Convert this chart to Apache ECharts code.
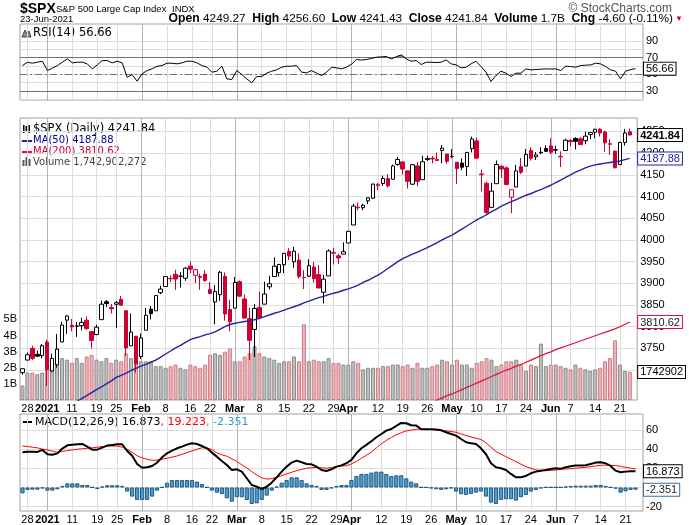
<!DOCTYPE html>
<html>
<head>
<meta charset="utf-8">
<script src="https://cdn.jsdelivr.net/npm/echarts@6.0.0/dist/echarts.min.js"></script>
<style>
html,body{margin:0;padding:0;background:#fff;}
#chart{width:689px;height:525px;}
</style>
</head>
<body>
<div id="chart"></div>
<script>
// ---------------- DATA ----------------
const dates = [
'2020-12-24','2020-12-28','2020-12-29','2020-12-30','2020-12-31',
'2021-01-04','2021-01-05','2021-01-06','2021-01-07','2021-01-08','2021-01-11','2021-01-12','2021-01-13','2021-01-14','2021-01-15','2021-01-19','2021-01-20','2021-01-21','2021-01-22','2021-01-25','2021-01-26','2021-01-27','2021-01-28','2021-01-29',
'2021-02-01','2021-02-02','2021-02-03','2021-02-04','2021-02-05','2021-02-08','2021-02-09','2021-02-10','2021-02-11','2021-02-12','2021-02-16','2021-02-17','2021-02-18','2021-02-19','2021-02-22','2021-02-23','2021-02-24','2021-02-25','2021-02-26',
'2021-03-01','2021-03-02','2021-03-03','2021-03-04','2021-03-05','2021-03-08','2021-03-09','2021-03-10','2021-03-11','2021-03-12','2021-03-15','2021-03-16','2021-03-17','2021-03-18','2021-03-19','2021-03-22','2021-03-23','2021-03-24','2021-03-25','2021-03-26','2021-03-29','2021-03-30','2021-03-31',
'2021-04-01','2021-04-05','2021-04-06','2021-04-07','2021-04-08','2021-04-09','2021-04-12','2021-04-13','2021-04-14','2021-04-15','2021-04-16','2021-04-19','2021-04-20','2021-04-21','2021-04-22','2021-04-23','2021-04-26','2021-04-27','2021-04-28','2021-04-29','2021-04-30',
'2021-05-03','2021-05-04','2021-05-05','2021-05-06','2021-05-07','2021-05-10','2021-05-11','2021-05-12','2021-05-13','2021-05-14','2021-05-17','2021-05-18','2021-05-19','2021-05-20','2021-05-21','2021-05-24','2021-05-25','2021-05-26','2021-05-27','2021-05-28',
'2021-06-01','2021-06-02','2021-06-03','2021-06-04','2021-06-07','2021-06-08','2021-06-09','2021-06-10','2021-06-11','2021-06-14','2021-06-15','2021-06-16','2021-06-17','2021-06-18','2021-06-21','2021-06-22','2021-06-23'
];
const prevClose0 = 3690.01;
const open = [
3694.03,3723.03,3750.01,3736.19,3733.27,
3764.61,3698.02,3712.20,3764.71,3815.05,3803.14,3801.62,3802.23,3814.98,3788.73,3781.88,3816.22,3857.46,3844.24,3851.68,3862.96,3836.83,3755.75,3778.05,
3731.17,3791.84,3840.27,3836.66,3878.30,3892.59,3910.49,3920.78,3916.40,3911.65,3939.61,3918.50,3915.86,3921.16,3885.55,3857.07,3873.71,3915.80,3839.66,
3842.51,3903.64,3863.99,3818.53,3793.58,3844.39,3851.93,3891.99,3915.54,3924.52,3942.96,3973.59,3949.57,3953.50,3913.14,3916.48,3937.60,3919.93,3879.34,3917.12,3969.31,3963.34,3967.25,
3992.78,4034.44,4075.57,4074.29,4089.95,4096.11,4124.71,4130.10,4141.58,4139.76,4174.14,4179.80,4159.18,4128.42,4170.46,4138.78,4185.03,4188.25,4185.14,4206.14,4198.10,
4191.98,4179.04,4177.06,4169.14,4210.34,4228.29,4150.34,4130.55,4074.99,4129.58,4169.92,4165.94,4098.45,4121.97,4168.61,4170.16,4205.94,4191.59,4201.94,4210.77,
4216.52,4206.82,4191.43,4206.05,4229.34,4233.81,4232.99,4228.56,4242.90,4248.31,4255.28,4248.87,4220.37,4204.78,4173.40,4224.61,4249.27
];
const high = [
3703.82,3740.51,3756.12,3744.63,3760.20,
3769.99,3737.83,3783.04,3811.55,3826.69,3817.86,3810.78,3820.96,3823.60,3788.73,3804.53,3859.75,3861.45,3852.31,3859.23,3870.90,3836.83,3830.50,3778.05,
3784.32,3843.09,3847.51,3872.42,3894.56,3915.77,3918.35,3931.50,3925.99,3937.23,3950.43,3933.61,3921.98,3930.41,3902.92,3895.98,3928.65,3925.02,3861.08,
3914.50,3906.41,3874.47,3843.67,3851.69,3881.06,3903.76,3917.35,3960.27,3944.99,3970.08,3981.04,3983.87,3969.62,3930.12,3955.31,3949.13,3942.08,3919.54,3978.19,3981.83,3968.01,3994.41,
4020.63,4083.42,4086.23,4083.13,4098.19,4129.48,4131.76,4148.00,4151.69,4173.49,4191.31,4180.81,4159.18,4175.02,4179.57,4194.17,4194.19,4193.35,4201.53,4218.78,4198.10,
4209.39,4179.04,4187.72,4202.70,4238.04,4236.39,4162.04,4134.73,4131.58,4183.13,4171.92,4169.15,4116.93,4172.80,4188.72,4209.52,4213.42,4202.61,4213.38,4218.36,
4234.12,4217.37,4204.39,4233.45,4232.34,4236.74,4237.09,4249.74,4248.38,4255.59,4257.16,4251.89,4232.29,4204.78,4226.24,4255.84,4256.60
];
const low = [
3689.32,3723.03,3723.31,3730.21,3726.88,
3662.71,3695.07,3705.34,3764.71,3783.60,3789.02,3776.51,3791.50,3792.86,3749.62,3780.37,3816.22,3845.05,3830.41,3797.16,3847.78,3732.48,3755.75,3694.12,
3725.62,3791.84,3816.68,3836.66,3874.93,3892.59,3902.64,3884.94,3890.39,3905.78,3923.85,3900.43,3885.03,3903.07,3874.71,3805.59,3859.60,3814.04,3789.54,
3842.51,3868.57,3818.86,3723.34,3730.19,3819.25,3851.93,3885.73,3915.54,3915.21,3923.54,3953.44,3935.74,3910.86,3886.75,3914.16,3901.57,3889.07,3853.50,3917.12,3943.25,3944.35,3966.98,
3992.78,4034.44,4068.14,4068.31,4082.54,4095.51,4114.82,4124.43,4120.87,4139.76,4170.75,4150.47,4118.38,4126.35,4123.69,4138.78,4182.36,4176.22,4181.78,4176.81,4174.85,
4188.03,4128.59,4160.94,4147.33,4201.64,4188.13,4111.53,4056.88,4074.99,4129.58,4142.69,4125.99,4061.41,4121.97,4151.72,4170.16,4182.52,4184.11,4197.78,4203.57,
4197.59,4198.27,4167.93,4206.05,4215.66,4208.41,4218.74,4220.34,4232.25,4234.07,4238.35,4202.45,4196.05,4164.40,4173.40,4217.27,4241.43
];
const close = [
3703.06,3735.36,3727.04,3732.04,3756.07,
3700.65,3726.86,3748.14,3803.79,3824.68,3799.61,3801.19,3809.84,3795.54,3768.25,3798.91,3851.85,3853.07,3841.47,3855.36,3849.62,3750.77,3787.38,3714.24,
3773.86,3826.31,3830.17,3871.74,3886.83,3915.59,3911.23,3909.88,3916.38,3934.83,3932.59,3931.33,3913.97,3906.71,3876.50,3881.37,3925.43,3829.34,3811.15,
3901.82,3870.29,3819.72,3768.47,3841.94,3821.35,3875.44,3898.81,3939.34,3943.34,3968.94,3962.71,3974.12,3915.46,3913.10,3940.59,3910.52,3889.14,3909.52,3974.54,3971.09,3958.55,3972.89,
4019.87,4077.91,4073.94,4079.95,4097.17,4128.80,4127.99,4141.59,4124.66,4170.42,4185.47,4163.26,4134.94,4173.42,4134.98,4180.17,4187.62,4186.72,4183.18,4211.47,4181.17,
4192.66,4164.66,4167.59,4201.62,4232.60,4188.43,4152.10,4063.04,4112.50,4173.85,4163.29,4127.83,4115.68,4159.12,4155.86,4197.05,4188.13,4195.99,4200.88,4204.11,
4202.04,4208.12,4192.85,4229.89,4226.52,4227.26,4219.55,4239.18,4247.44,4255.15,4246.59,4223.70,4221.86,4166.45,4224.79,4246.44,4241.84
];
// volume in billions
const volumeB = [
0.9,1.7,1.7,1.6,1.7,
2.7,2.5,3.2,2.6,2.5,2.3,2.6,2.3,2.7,2.8,2.5,2.4,2.6,2.3,2.5,2.4,2.9,2.6,3.2,
2.4,2.4,2.4,2.1,2.1,2.0,2.1,2.2,2.0,1.9,2.2,2.1,2.0,2.2,2.8,2.9,2.8,3.0,3.2,
2.4,2.4,2.7,2.9,3.35,2.9,2.7,2.6,2.5,2.3,2.4,2.4,2.7,2.4,4.7,2.4,2.5,2.4,2.4,2.6,2.3,2.3,2.2,
2.2,2.4,2.3,1.9,2.0,2.0,2.0,2.1,2.1,2.2,2.2,2.1,2.2,2.0,2.3,2.0,2.0,2.1,2.2,2.5,2.4,
2.2,2.5,2.2,2.2,2.0,2.3,2.4,2.6,2.5,2.1,2.2,2.4,2.4,2.5,2.2,1.8,2.2,2.1,3.5,2.1,
2.2,2.2,2.1,2.0,1.9,2.2,2.0,1.9,1.8,1.9,2.0,2.4,2.6,3.7,2.2,1.8,1.742902272
];
const ma50 = [
null,null,null,null,null,
null,null,null,null,null,null,3628,3634,3641,3648,3655,3661,3668,3675,3683,3688,3693,3699,3704,
3709,3713,3718,3723,3730,3737,3744,3751,3757,3764,3770,3774,3777,3781,3784,3788,3794,3800,3805,
3808,3810,3812,3813.5,3816,3819,3823,3827,3831,3834,3838,3842,3846,3850,3855,3859,3863,3867,3870,3874,3877,3880,3884,
3887,3891,3896,3902,3907,3913,3919,3926,3934,3942,3950,3957,3962,3967,3972,3977,3982,3988,3994,4000,4006,
4011,4018,4025,4032,4039,4046,4052,4058,4065,4071,4078,4083,4088,4093,4098,4103,4107,4112,4116,4121,
4126,4132,4138,4144,4150,4156,4161,4166,4170,4173,4175,4177,4178.5,4180,4182,4185,4187.88
];
const ma200 = [
null,null,null,null,null,
null,null,null,null,null,null,null,null,null,null,null,null,null,null,null,null,null,null,null,
null,null,null,null,null,null,null,null,null,null,null,null,null,null,null,null,null,null,null,
null,null,null,null,null,null,null,null,null,null,null,null,null,null,null,null,null,null,null,null,null,null,null,
null,null,null,null,null,null,null,null,null,null,null,null,null,null,null,null,null,3625,3631,3636,3641,
3645,3650,3655,3660,3665,3670,3675,3680,3685,3690,3695,3700,3704,3709,3713,3718,3723,3728,3733,3738,
3742,3747,3751,3755,3759,3763,3767,3771,3775,3779,3783,3787,3791,3795,3800,3805,3810.62
];
const rsi = [
60.4,64.4,63.2,64.4,65.6,
54.4,57.2,60.4,64.4,68.4,63.6,64.4,64.4,62.4,56.4,61.2,66.4,66.4,63.6,65.6,63.6,46.4,49.6,41.6,
50.4,54.4,56.4,59.6,60.4,63.2,63.2,62.4,63.6,65.6,65.6,63.6,60.4,58.4,52.4,53.6,59.6,44.4,43.6,
54.4,49.6,44.4,39.6,47.2,47.2,51.2,53.6,55.2,58.4,59.6,59.6,60.4,52.4,51.6,54.4,51.2,48.4,52.4,58.4,57.6,56.4,58.4,
62.0,67.6,67.0,67.6,69.0,70.4,70.8,71.2,68.4,71.0,73.2,68.4,65.6,66.4,61.6,64.4,64.4,64.0,64.4,67.2,62.4,
61.2,57.6,58.4,62.4,65.6,59.2,52.4,41.2,48.4,53.6,51.2,47.2,51.2,51.2,56.4,55.2,55.6,56.0,56.4,56.2,
56.4,54.4,59.6,59.2,58.4,60.4,60.8,61.2,63.2,62.4,59.2,55.2,53.6,44.4,53.6,55.6,56.66
];
const macd = [
36.6,37.3,37.3,37.0,39.1,
34.6,34.0,35.5,40.5,43.9,44.6,45.0,45.3,42.5,39.4,39.4,41.5,43.6,44.3,45.0,45.0,38.0,33.0,24.5,
20.5,21.0,22.4,25.9,31.4,35.6,38.4,40.8,42.5,44.6,46.0,45.3,43.2,40.8,36.3,32.1,27.6,23.4,18.2,
18.9,16.5,9.6,2.6,0.9,-1.6,0.9,5.0,10.6,16.5,21.7,25.9,28.0,26.2,24.5,24.1,21.7,18.2,17.2,18.9,21.7,23.0,25.2,
28.7,35.6,40.8,44.3,48.1,52.3,55.7,59.2,60.9,64.1,67.2,66.9,64.8,64.4,60.6,60.6,60.6,60.3,59.6,57.5,55.7,
54.0,50.5,47.1,46.0,45.3,40.8,34.6,25.2,21.0,20.0,18.2,14.1,10.6,10.6,12.0,14.8,16.5,17.5,18.2,19.3,
20.0,19.6,21.0,22.1,22.8,22.8,23.1,24.5,25.9,26.2,25.2,22.4,17.5,15.8,16.5,16.9,16.873
];
const signal = [
43.2,42.6,41.9,41.2,40.0,
39.1,37.8,36.6,37.5,38.4,39.1,39.8,40.3,40.8,41.3,41.9,42.5,43.2,43.2,43.2,42.0,39.8,36.5,33.0,
30.8,29.4,28.3,28.5,29.5,30.4,31.6,32.8,34.5,36.3,38.0,39.8,41.3,41.2,39.5,36.0,34.0,32.5,29.8,
27.2,23.5,20.5,16.5,13.0,10.0,8.7,9.2,10.6,12.3,14.1,15.8,17.5,18.8,20.0,20.5,21.0,20.5,20.0,20.8,21.7,22.3,22.6,
24.5,27.3,30.4,33.5,36.8,41.2,45.5,49.0,52.0,54.8,57.0,58.9,59.8,60.6,60.6,60.6,60.3,59.9,59.4,58.9,58.2,
57.5,55.8,54.0,52.6,51.2,50.0,46.5,42.0,37.3,34.7,32.1,29.5,26.9,24.3,21.7,20.0,18.2,17.8,17.5,17.9,
18.2,18.8,19.3,19.6,20.0,20.5,21.0,21.7,22.4,23.0,23.3,23.0,22.8,21.9,21.0,20.1,19.223
];
const hist = [
-6.1,-2.6,-2.3,-2.3,-0.9,
-3.3,-3.3,-1.9,1.6,4.3,4.3,4.3,2.6,2.6,0.2,-1.6,0.9,2.3,2.3,2.3,1.6,-4.3,-9.5,-13.0,
-13.0,-13.0,-9.5,-3.3,0.2,5.0,7.8,7.8,7.8,7.8,7.8,6.1,3.6,0.2,-3.3,-5.4,-6.8,-11.3,-14.8,
-10.2,-10.2,-13.0,-17.2,-16.5,-13.0,-8.5,-3.3,0.9,5.0,7.8,10.6,10.6,7.8,4.3,2.6,1.6,-2.6,-2.6,-0.9,1.6,2.6,2.6,
7.8,12.0,14.1,14.1,15.5,16.5,16.5,14.1,12.0,12.7,12.7,9.5,6.1,4.3,0.2,0.2,-0.9,-1.9,-2.6,-1.9,-0.9,
-4.3,-7.1,-7.8,-6.8,-5.4,-4.3,-9.5,-15.8,-17.2,-13.0,-12.3,-12.3,-13.7,-10.2,-7.8,-4.3,-2.6,-0.9,0.2,0.2,
0.2,0.2,0.9,1.6,1.9,1.9,1.9,1.9,2.6,2.6,1.6,0.2,-1.2,-5.4,-4.0,-2.6,-2.351
];
const tickDates = ['2020-12-28','2021-01-04','2021-01-11','2021-01-19','2021-01-25','2021-02-01','2021-02-08','2021-02-16','2021-02-22','2021-03-01','2021-03-08','2021-03-15','2021-03-22','2021-03-29','2021-04-01','2021-04-12','2021-04-19','2021-04-26','2021-05-03','2021-05-10','2021-05-17','2021-05-24','2021-06-01','2021-06-07','2021-06-14','2021-06-21'];
const tickLabels = ['28','2021','11','19','25','Feb','8','16','22','Mar','8','15','22','29','Apr','12','19','26','May','10','17','24','Jun','7','14','21'];
const monthStarts = ['2021-01-04','2021-02-01','2021-03-01','2021-04-01','2021-05-03','2021-06-01'];
const priceTicks = [3700,3750,3800,3850,3900,3950,4000,4050,4100,4150,4200,4250];
const volTicks = [1,2,3,4,5];
const rsiLabelTicks = [30,50,70,90];
const rsiGridTicks = [20,30,40,50,60,70,80,90];
const rsiLevels = [70,50,30];
const rsiOverbought = 70;
const macdTicks = [-20,0,20,40,60];

// ---------------- STYLE / BUILD ----------------
const RED = '#cc0033', NAVY = '#2323a0', MA200C = '#dd1133';
const AXF = '"Liberation Sans", Arial, sans-serif';
const LGF = '"DejaVu Sans", Verdana, sans-serif';
const N = dates.length;
const cats = dates.concat(['']);
const tickSet = new Set(tickDates);
const monthSet = new Set(monthStarts);
const labelMap = {}; tickDates.forEach((d,i)=>{labelMap[d]=tickLabels[i];});
const boldSet = new Set(['2021','Feb','Mar','Apr','May','Jun']);

const upDay = close.map((c,i)=> c >= (i===0 ? prevClose0 : close[i-1]));
const candleData = close.map((c,i)=>{
  const stroke = upDay[i] ? '#000' : RED;
  const fill = c > open[i] ? '#fff' : stroke;
  return {value:[open[i], c, low[i], high[i]], itemStyle:{color:fill, color0:fill, borderColor:stroke, borderColor0:stroke}};
});
const volData = volumeB.map((v,i)=>({value:v, itemStyle: upDay[i] ? {color:'#c0c0c0', borderColor:'#8a8a8a'} : {color:'#e9b6bc', borderColor:'#d47882'}}));
const rsiHot = rsi.map(v=>Math.max(v, rsiOverbought));

const P_MIN = 3631, P_MAX = 4281, V_MAX = 17.5;
const R_MIN = 19, R_MAX = 110.3, M_MIN = -24.5, M_MAX = 76.5;
const GL = 20, GR = 46;
const grids = [
  {left:GL, right:GR, top:24, height:76},
  {left:GL, right:GR, top:118, height:282},
  {left:GL, right:GR, top:414, height:97}
].map(g=>Object.assign(g,{show:true, borderColor:'#a0a0a0', borderWidth:1, backgroundColor:'#fff'}));

function xPair(gi, showLabels){
  return [{
    type:'category', gridIndex:gi, data:cats, boundaryGap:true,
    axisLine:{show:false}, axisTick:{show:false},
    axisLabel: showLabels ? {
      interval:(i,v)=>tickSet.has(v), margin:3,
      formatter:(v)=>{const l=labelMap[v]||''; return boldSet.has(l)?'{b|'+l+'}':l;},
      fontFamily:AXF, fontSize:11, color:'#000',
      rich:{b:{fontFamily:AXF, fontSize:11, fontWeight:'bold', color:'#000'}}
    } : {show:false},
    splitLine:{show:true, interval:(i,v)=>tickSet.has(v)&&!monthSet.has(v), alignWithLabel:true, lineStyle:{color:'#dcdcdc', width:1}}
  },{
    type:'category', gridIndex:gi, data:cats, boundaryGap:true,
    axisLine:{show:false}, axisTick:{show:false}, axisLabel:{show:false},
    splitLine:{show:true, interval:(i,v)=>monthSet.has(v), alignWithLabel:true, lineStyle:{color:'#b4b4b4', width:1}}
  }];
}

function valAxis(gi, pos, min, max, labels, grid, splitNumber, showSplit){
  return {type:'value', gridIndex:gi, position:pos, min:min, max:max, splitNumber:splitNumber,
    axisLine:{show:false}, axisTick:{show:false, customValues:grid},
    axisLabel:{customValues:labels, margin:3, fontFamily:AXF, fontSize:11, color:'#000', formatter:(v)=>String(v)},
    splitLine:{show:showSplit, lineStyle:{color:'#dcdcdc', width:1}}};
}
function tagAxis(gi, min, max, vals, fmt, rich){
  return {type:'value', gridIndex:gi, position:'right', min:min, max:max, z:10,
    axisLine:{show:false}, axisTick:{show:false}, splitLine:{show:false},
    axisLabel:{customValues:vals, margin:1, formatter:fmt, rich:rich, fontFamily:AXF, fontSize:11}};
}
function box(border, color, bold){
  return {fontFamily:AXF, fontSize:11, fontWeight:bold?'bold':'normal', color:color, borderColor:border, borderWidth:1, backgroundColor:'#fff', padding:[1,2,0,2], lineHeight:12};
}

const lastC = close[N-1], lastM50 = ma50[N-1], lastM200 = ma200[N-1], lastV = volumeB[N-1];
const lastR = rsi[N-1], lastMacd = macd[N-1], lastSig = signal[N-1], lastHist = hist[N-1];
const near=(a,b)=>Math.abs(a-b)<1e-6;

const volAxis = valAxis(1,'left',0,V_MAX,volTicks,volTicks,5,false);
volAxis.axisLabel.formatter = (v)=>v+'B';

const option = {
  animation:false,
  backgroundColor:'#fff',
  grid:grids,
  xAxis:[...xPair(0,false), ...xPair(1,true), ...xPair(2,true)],
  yAxis:[
    valAxis(0,'right',R_MIN,R_MAX,rsiLabelTicks,rsiGridTicks,9,true),
    valAxis(1,'right',P_MIN,P_MAX,priceTicks,priceTicks,13,true),
    volAxis,
    valAxis(2,'right',M_MIN,M_MAX,macdTicks,macdTicks,5,true),
    tagAxis(0,R_MIN,R_MAX,[lastR],(v)=>'{t|'+v.toFixed(2)+'}',{t:box('#000','#000',false)}),
    tagAxis(1,P_MIN,P_MAX,[lastC,lastM50,lastM200],(v)=>{
      if(near(v,lastC)) return '{c|'+v.toFixed(2)+'}';
      if(near(v,lastM50)) return '{m|'+v.toFixed(2)+'}';
      return '{r|'+v.toFixed(2)+'}';
    },{c:box('#000','#000',true), m:box(NAVY,NAVY,false), r:box(MA200C,'#222',false)}),
    tagAxis(1,0,V_MAX,[lastV],(v)=>'{t|'+String(Math.round(v*1e9)).slice(0,7)+'}',{t:box('#000','#000',false)}),
    tagAxis(2,M_MIN,M_MAX,[lastMacd,lastHist],(v)=>near(v,lastMacd)?'{k|'+v.toFixed(3)+'}':'{h|'+v.toFixed(3)+'}',
      {k:box('#000','#000',false), h:box('#3a6d9e','#222',false)})
  ],
  series:[
    {type:'line', name:'RSI>70', xAxisIndex:0, yAxisIndex:0, data:rsiHot, symbol:'none', lineStyle:{width:0}, z:4,
     areaStyle:{origin:rsiOverbought, color:'#5f8f4a', opacity:0.9}},
    {type:'line', name:'RSI', xAxisIndex:0, yAxisIndex:0, data:rsi, symbol:'none', lineStyle:{color:'#000', width:1}, z:5,
     markLine:{silent:true, symbol:['none','none'], label:{show:false}, animation:false,
       data:rsiLevels.map(l=>({yAxis:l, lineStyle:{color:'#707070', width:1, type: l===50 ? [7,3,2,3] : 'solid'}}))}},
    {type:'bar', name:'Volume', xAxisIndex:2, yAxisIndex:2, data:volData, barWidth:4, itemStyle:{borderWidth:1}, z:1},
    {type:'candlestick', name:'$SPX', xAxisIndex:2, yAxisIndex:1, data:candleData, barWidth:4, itemStyle:{borderWidth:1}, z:3},
    {type:'line', name:'MA50', xAxisIndex:2, yAxisIndex:1, data:ma50, symbol:'none', lineStyle:{color:NAVY, width:1.4}, z:4},
    {type:'line', name:'MA200', xAxisIndex:2, yAxisIndex:1, data:ma200, symbol:'none', lineStyle:{color:MA200C, width:1.2}, z:4},
    {type:'bar', name:'Hist', xAxisIndex:4, yAxisIndex:3, data:hist, barWidth:4.2, itemStyle:{color:'#4f9dca', borderColor:'#1f5a85', borderWidth:1}, z:2},
    {type:'line', name:'Signal', xAxisIndex:4, yAxisIndex:3, data:signal, symbol:'none', lineStyle:{color:'#ff0000', width:1}, z:3},
    {type:'line', name:'MACD', xAxisIndex:4, yAxisIndex:3, data:macd, symbol:'none', lineStyle:{color:'#000', width:2}, z:4}
  ],
  graphic:[
    {type:'text', x:20, y:9, style:{text:'$SPX', fontFamily:AXF, fontSize:14, fontWeight:'bold', fill:'#000', verticalAlign:'middle'}},
    {type:'text', x:56, y:9, style:{text:'S&P 500 Large Cap Index', fontFamily:AXF, fontSize:9.5, fill:'#000', verticalAlign:'middle'}},
    {type:'text', x:172, y:9, style:{text:'INDX', fontFamily:AXF, fontSize:9.5, fill:'#000', verticalAlign:'middle'}},
    {type:'text', x:672, y:9, style:{text:'\u00A9 StockCharts.com', fontFamily:AXF, fontSize:12, fill:'#555', align:'right', verticalAlign:'middle'}},
    {type:'text', x:20, y:19, style:{text:'23-Jun-2021', fontFamily:AXF, fontSize:9.5, fill:'#000', verticalAlign:'middle'}},
    {type:'text', x:673, y:19, style:{
      text:'{b|Open} 4249.27  {b|High} 4256.60  {b|Low} 4241.43  {b|Close} 4241.84  {b|Volume} 1.7B  {b|Chg} -4.60 (-0.11%)',
      fontFamily:AXF, fontSize:11.8, fill:'#000', align:'right', verticalAlign:'middle',
      rich:{b:{fontFamily:AXF, fontSize:12.2, fontWeight:'bold', fill:'#000'}}}},
    {type:'text', x:675, y:19, style:{text:'\u25BC', fontFamily:AXF, fontSize:8, fill:RED, verticalAlign:'middle'}},
    // RSI label
    {type:'polygon', shape:{points:[[22,37],[25,30],[27,34],[29,31],[31,37]]}, style:{fill:'#7a9a6a', stroke:'#445'}},
    {type:'text', x:33, y:33, style:{text:'RSI(14) '+lastR.toFixed(2), fontFamily:LGF, fontSize:11.5, fill:'#000', verticalAlign:'middle'}},
    // main legend
    {type:'rect', shape:{x:23, y:125, width:1.5, height:8}, style:{fill:'#000'}},
    {type:'rect', shape:{x:25.5, y:126, width:2, height:5}, style:{fill:'#000'}},
    {type:'rect', shape:{x:28.5, y:125, width:1.5, height:8}, style:{fill:'#000'}},
    {type:'text', x:33, y:129.5, style:{text:'$SPX (Daily) '+lastC.toFixed(2), fontFamily:LGF, fontSize:11.5, fill:'#000', verticalAlign:'middle'}},
    {type:'rect', shape:{x:22, y:140, width:10, height:2}, style:{fill:NAVY}},
    {type:'text', x:33, y:140.5, style:{text:'MA(50) '+lastM50.toFixed(2), fontFamily:LGF, fontSize:10, fill:'#000099', verticalAlign:'middle'}},
    {type:'rect', shape:{x:22, y:151, width:10, height:2}, style:{fill:MA200C}},
    {type:'text', x:33, y:151.5, style:{text:'MA(200) '+lastM200.toFixed(2), fontFamily:LGF, fontSize:10, fill:'#cc0033', verticalAlign:'middle'}},
    {type:'rect', shape:{x:22.5, y:160, width:2, height:6}, style:{fill:'#555'}},
    {type:'rect', shape:{x:25.5, y:157, width:2, height:9}, style:{fill:'#555'}},
    {type:'rect', shape:{x:28.5, y:159, width:2, height:7}, style:{fill:'#555'}},
    {type:'text', x:33, y:162, style:{text:'Volume '+Math.round(lastV*1e9).toLocaleString('en-US'), fontFamily:LGF, fontSize:10, fill:'#444', verticalAlign:'middle'}},
    // MACD legend
    {type:'rect', shape:{x:23, y:421, width:9, height:2}, style:{fill:'#000'}},
    {type:'text', x:35, y:422, style:{
      text:'{k|MACD(12,26,9) '+lastMacd.toFixed(3)+'}{r|, '+lastSig.toFixed(3)+'}{h|, '+lastHist.toFixed(3)+'}',
      fontFamily:LGF, fontSize:11, verticalAlign:'middle',
      rich:{k:{fontFamily:LGF, fontSize:11, fill:'#000'}, r:{fontFamily:LGF, fontSize:11, fill:'#ff0000'}, h:{fontFamily:LGF, fontSize:11, fill:'#3399cc'}}}}
  ]
};
const chart = echarts.init(document.getElementById('chart'));
chart.setOption(option);
</script>
</body>
</html>
